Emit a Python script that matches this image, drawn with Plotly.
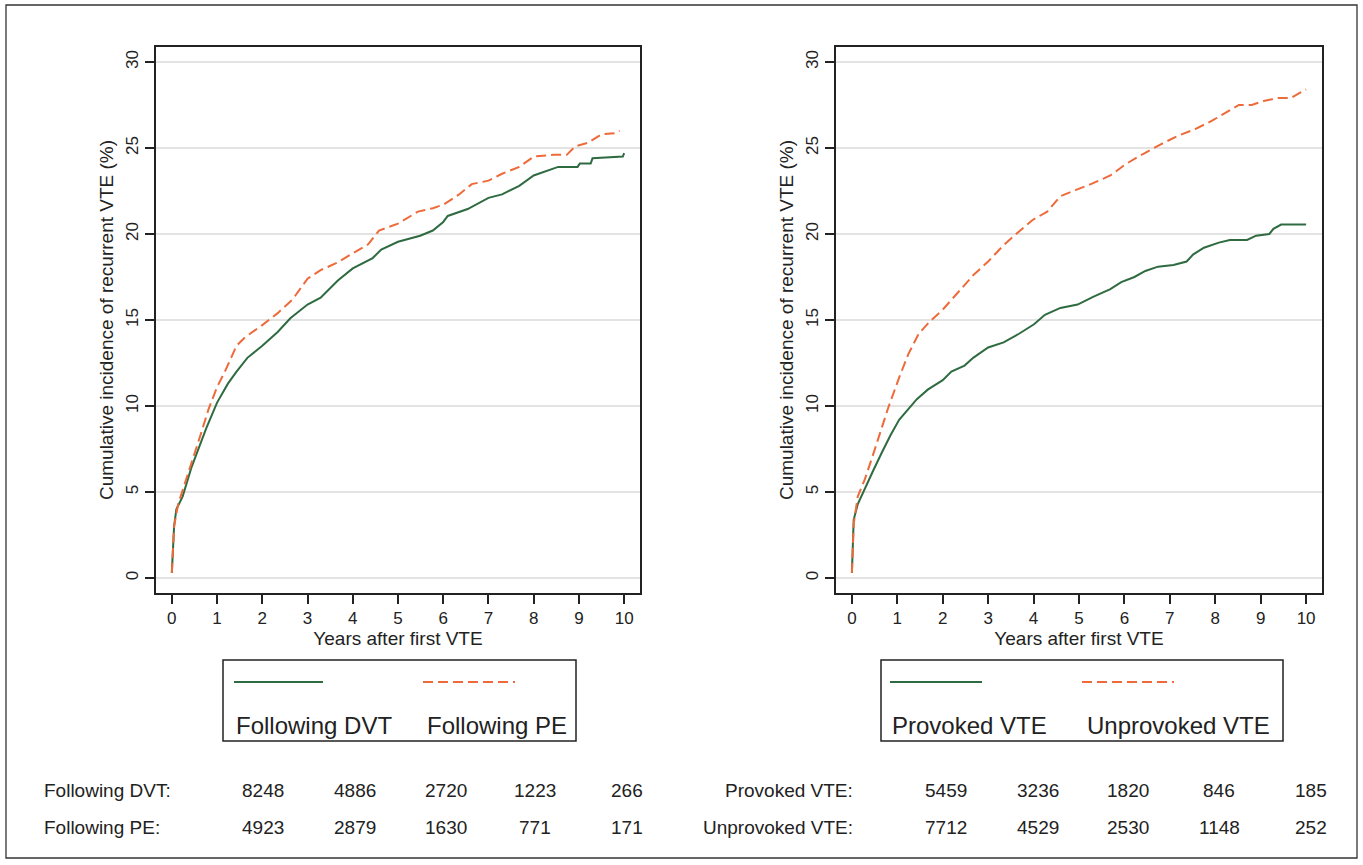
import plotly.graph_objects as go

# ---------------- data ----------------
years_ticks = list(range(0, 11))
y_ticks = [0, 5, 10, 15, 20, 25, 30]

dvt_t = [0, 0.02, 0.05, 0.1, 0.24, 0.43, 0.62, 0.76, 1.0, 1.24, 1.43, 1.67, 2.0, 2.34, 2.62, 3.0,
         3.29, 3.67, 4.0, 4.44, 4.63, 5.0, 5.49, 5.77, 6.0, 6.1, 6.54, 7.0, 7.3, 7.68, 8.0, 8.25,
         8.54, 8.97, 9.02, 9.26, 9.3, 9.97, 10.0]
dvt_y = [0.3, 1.5, 3.0, 4.0, 4.75, 6.4, 7.7, 8.7, 10.2, 11.3, 12.0, 12.8, 13.5, 14.3, 15.1, 15.9,
         16.3, 17.3, 18.0, 18.6, 19.1, 19.55, 19.9, 20.2, 20.7, 21.05, 21.45, 22.1, 22.3, 22.8, 23.4, 23.65,
         23.9, 23.9, 24.1, 24.1, 24.4, 24.5, 24.7]

pe_t = [0, 0.02, 0.05, 0.14, 0.24, 0.43, 0.62, 0.81, 1.0, 1.19, 1.43, 1.62, 2.0, 2.34, 2.67, 3.0,
        3.29, 3.63, 4.0, 4.34, 4.58, 5.0, 5.44, 5.77, 6.0, 6.35, 6.63, 7.0, 7.3, 7.68, 8.0, 8.44,
        8.73, 8.92, 9.2, 9.5, 9.78, 9.9]
pe_y = [0.3, 1.5, 3.0, 4.3, 5.1, 6.6, 8.2, 9.8, 11.1, 12.1, 13.5, 14.0, 14.7, 15.4, 16.2, 17.4,
        17.9, 18.3, 18.85, 19.4, 20.2, 20.6, 21.3, 21.5, 21.7, 22.3, 22.9, 23.1, 23.5, 23.9, 24.5, 24.6,
        24.6, 25.1, 25.3, 25.8, 25.85, 26.0]

prov_t = [0, 0.02, 0.04, 0.13, 0.28, 0.47, 0.66, 0.85, 1.04, 1.24, 1.43, 1.67, 2.0, 2.19, 2.48, 2.67,
          3.0, 3.34, 3.68, 4.01, 4.25, 4.59, 4.97, 5.31, 5.69, 5.93, 6.22, 6.46, 6.74, 7.08, 7.37, 7.51,
          7.75, 8.08, 8.32, 8.7, 8.9, 9.19, 9.28, 9.45, 10.0]
prov_y = [0.3, 1.5, 3.4, 4.3, 5.2, 6.25, 7.3, 8.3, 9.2, 9.8, 10.4, 10.95, 11.5, 12.0, 12.35, 12.8,
          13.4, 13.7, 14.2, 14.75, 15.3, 15.7, 15.9, 16.35, 16.8, 17.2, 17.5, 17.85, 18.1, 18.2, 18.4, 18.8,
          19.2, 19.5, 19.65, 19.65, 19.9, 20.0, 20.3, 20.55, 20.55]

unprov_t = [0, 0.02, 0.04, 0.13, 0.28, 0.47, 0.66, 0.8, 1.04, 1.24, 1.47, 1.71, 2.0, 2.34, 2.67, 3.0,
            3.34, 3.68, 3.97, 4.3, 4.59, 4.92, 5.26, 5.69, 6.02, 6.41, 6.79, 7.17, 7.56, 7.94, 8.23, 8.52,
            8.8, 9.09, 9.38, 9.66, 9.86, 10.0]
unprov_y = [0.3, 1.5, 3.15, 4.75, 5.7, 7.2, 8.7, 9.9, 11.65, 13.0, 14.2, 14.9, 15.6, 16.6, 17.6, 18.4,
            19.35, 20.15, 20.8, 21.3, 22.2, 22.55, 22.9, 23.4, 24.05, 24.65, 25.2, 25.7, 26.1, 26.6, 27.05, 27.5,
            27.5, 27.75, 27.9, 27.9, 28.2, 28.4]

left_labels = ["Following DVT", "Following PE"]
right_labels = ["Provoked VTE", "Unprovoked VTE"]

left_risk = [[8248, 4886, 2720, 1223, 266], [4923, 2879, 1630, 771, 171]]
right_risk = [[5459, 3236, 1820, 846, 185], [7712, 4529, 2530, 1148, 252]]

x_title = "Years after first VTE"
y_title = "Cumulative incidence of recurrent VTE (%)"

# ---------------- style / layout ----------------
W, H = 1363, 865
GREEN = "#2f6b40"
ORANGE = "#ee6a3a"
FONT = "Liberation Sans, Arial, sans-serif"
TXT = "#222222"
DASH = "10px,5px"


def px(x):
    return x / W


def py(y):
    return 1 - y / H


fig = go.Figure()

fig.add_trace(go.Scatter(x=dvt_t, y=dvt_y, mode="lines", line=dict(color=GREEN, width=2),
                         xaxis="x", yaxis="y", showlegend=False, name=left_labels[0]))
fig.add_trace(go.Scatter(x=pe_t, y=pe_y, mode="lines", line=dict(color=ORANGE, width=2, dash=DASH),
                         xaxis="x", yaxis="y", showlegend=False, name=left_labels[1]))
fig.add_trace(go.Scatter(x=prov_t, y=prov_y, mode="lines", line=dict(color=GREEN, width=2),
                         xaxis="x2", yaxis="y2", showlegend=False, name=right_labels[0]))
fig.add_trace(go.Scatter(x=unprov_t, y=unprov_y, mode="lines", line=dict(color=ORANGE, width=2, dash=DASH),
                         xaxis="x2", yaxis="y2", showlegend=False, name=right_labels[1]))

ydom = [py(593), py(47)]
xdom_left = [px(156), px(640)]
xdom_right = [px(836), px(1322)]

common_x = dict(range=[-0.35, 10.35], tickmode="array", tickvals=years_ticks,
                ticks="outside", ticklen=9, tickwidth=1.5, tickcolor="#222",
                showline=True, linecolor="#222", linewidth=1.5, mirror=True,
                showgrid=False, zeroline=False,
                tickfont=dict(family=FONT, size=17, color=TXT),
                title=dict(text=x_title, font=dict(family=FONT, size=19, color=TXT), standoff=0))
common_y = dict(range=[-0.87, 30.87], tickmode="array", tickvals=y_ticks,
                ticks="outside", ticklen=9, tickwidth=1.5, tickcolor="#222",
                showline=True, linecolor="#222", linewidth=1.5, mirror=True,
                showgrid=True, gridcolor="#e3e3e3", gridwidth=1.5, zeroline=False,
                tickangle=-90,
                tickfont=dict(family=FONT, size=17, color=TXT),
                title=dict(text=y_title, font=dict(family=FONT, size=19, color=TXT), standoff=5))

fig.update_layout(
    width=W, height=H,
    margin=dict(l=0, r=0, t=0, b=0),
    paper_bgcolor="white", plot_bgcolor="white",
    xaxis=dict(domain=xdom_left, anchor="y", **common_x),
    yaxis=dict(domain=ydom, anchor="x", **common_y),
    xaxis2=dict(domain=xdom_right, anchor="y2", **common_x),
    yaxis2=dict(domain=ydom, anchor="x2", **common_y),
    showlegend=False,
)

shapes = []
annotations = []

# outer border
shapes.append(dict(type="rect", xref="paper", yref="paper", x0=px(6), x1=px(1357), y0=py(858), y1=py(5),
                   line=dict(color="#333", width=1.3)))

# legends (box, samples, labels)
legend_specs = [
    dict(box=(223, 576), samples=[(234, 323), (423, 515)], text_x=[234, 425], labels=left_labels),
    dict(box=(881, 1283), samples=[(890, 982), (1082, 1174)], text_x=[890, 1085], labels=right_labels),
]
for spec in legend_specs:
    bx0, bx1 = spec["box"]
    shapes.append(dict(type="rect", xref="paper", yref="paper", x0=px(bx0), x1=px(bx1),
                       y0=py(741), y1=py(660), line=dict(color="#222", width=1.5)))
    for i, (sx0, sx1) in enumerate(spec["samples"]):
        shapes.append(dict(type="line", xref="paper", yref="paper", x0=px(sx0), x1=px(sx1),
                           y0=py(682), y1=py(682),
                           line=dict(color=GREEN if i == 0 else ORANGE, width=2,
                                     dash="solid" if i == 0 else DASH)))
    for lab, tx in zip(spec["labels"], spec["text_x"]):
        annotations.append(dict(text=lab, xref="paper", yref="paper", x=px(tx), y=py(725),
                                xanchor="left", yanchor="middle", showarrow=False,
                                font=dict(family=FONT, size=24, color=TXT)))

# risk tables
row_y = [790, 827]
left_cols = [263, 355, 446, 535, 627]
right_cols = [946, 1038, 1128, 1219, 1311]
for r in range(2):
    annotations.append(dict(text=left_labels[r] + ":", xref="paper", yref="paper", x=px(42), y=py(row_y[r]),
                            xanchor="left", yanchor="middle", showarrow=False,
                            font=dict(family=FONT, size=19, color=TXT)))
    annotations.append(dict(text=right_labels[r] + ":", xref="paper", yref="paper", x=px(855), y=py(row_y[r]),
                            xanchor="right", yanchor="middle", showarrow=False,
                            font=dict(family=FONT, size=19, color=TXT)))
    for c in range(5):
        annotations.append(dict(text=str(left_risk[r][c]), xref="paper", yref="paper", x=px(left_cols[c]),
                                y=py(row_y[r]), xanchor="center", yanchor="middle", showarrow=False,
                                font=dict(family=FONT, size=19, color=TXT)))
        annotations.append(dict(text=str(right_risk[r][c]), xref="paper", yref="paper", x=px(right_cols[c]),
                                y=py(row_y[r]), xanchor="center", yanchor="middle", showarrow=False,
                                font=dict(family=FONT, size=19, color=TXT)))

fig.update_layout(shapes=shapes, annotations=annotations)

fig.write_html("out.html", config={"displayModeBar": False},
               post_script="document.body.style.margin='0px';")
